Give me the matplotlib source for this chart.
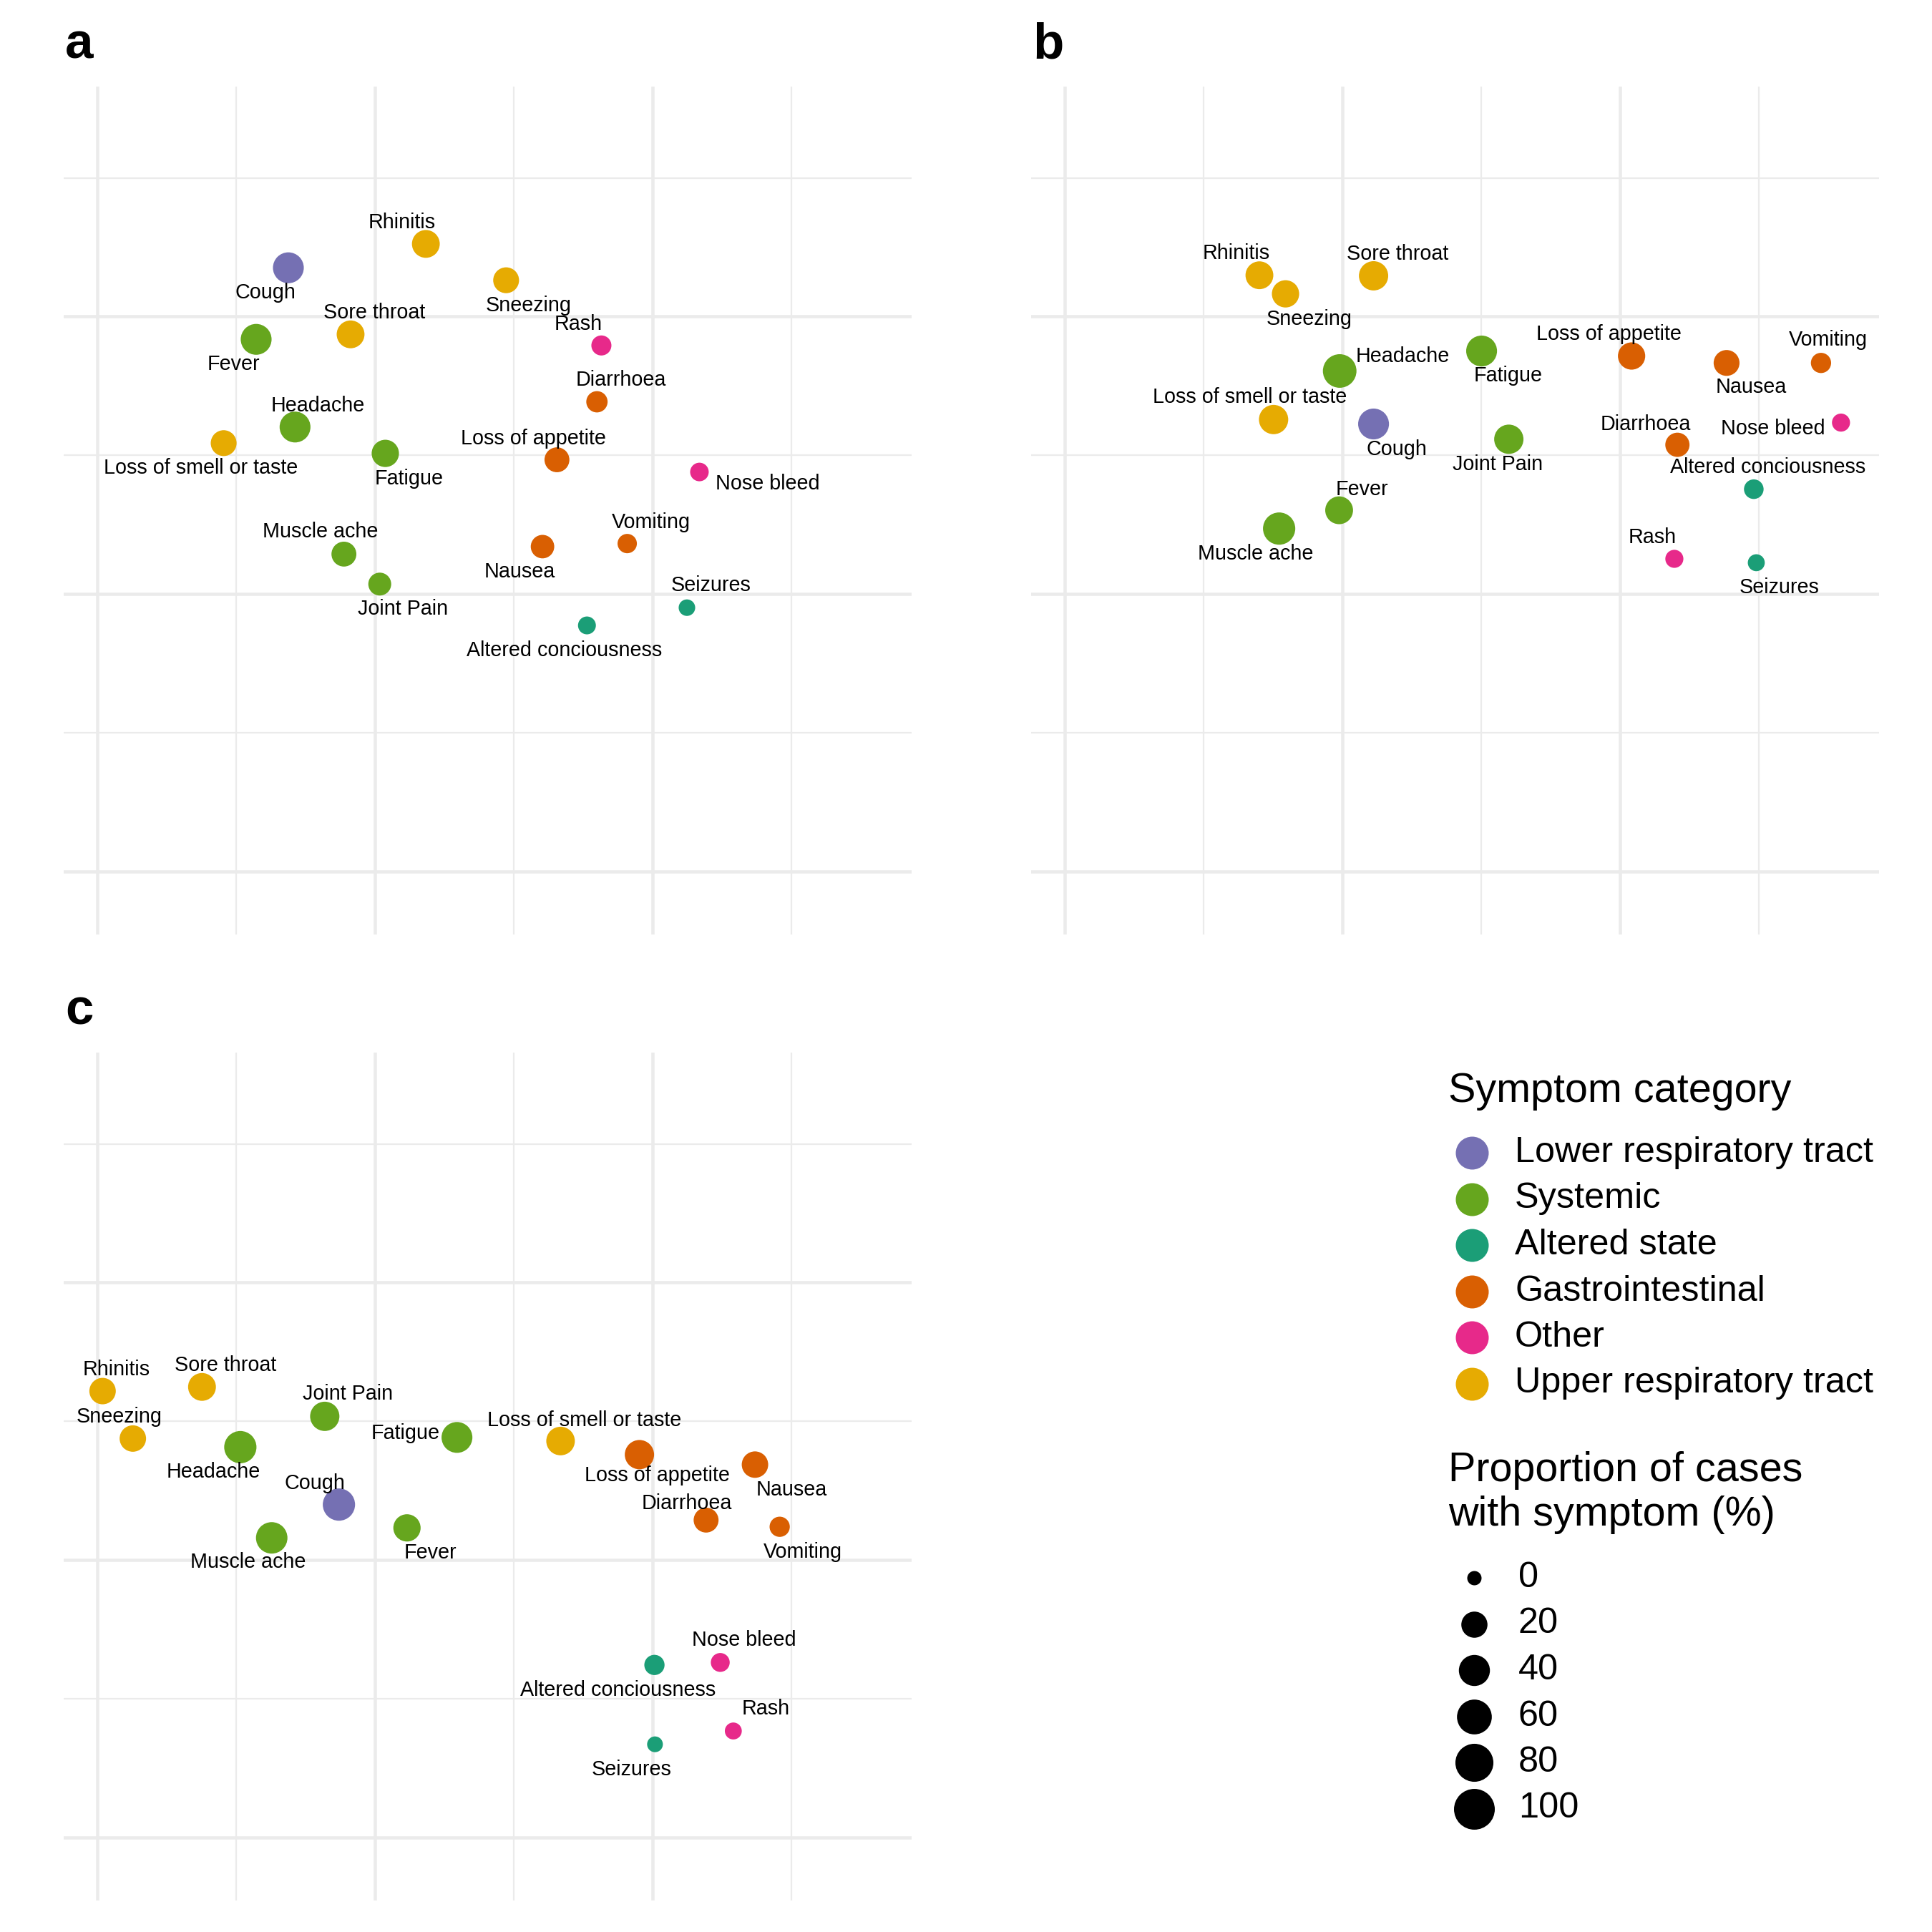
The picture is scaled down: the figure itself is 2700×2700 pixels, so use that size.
import numpy as np
import matplotlib
matplotlib.use("Agg")
import matplotlib.pyplot as plt

plt.rcParams['font.family'] = ['Liberation Sans', 'DejaVu Sans']

# symptoms and their category
symptoms = ["Cough", "Fever", "Headache", "Fatigue", "Muscle ache", "Joint Pain",
            "Altered conciousness", "Seizures", "Loss of appetite", "Diarrhoea",
            "Nausea", "Vomiting", "Rash", "Nose bleed", "Rhinitis", "Sneezing",
            "Sore throat", "Loss of smell or taste"]
category = ["Lower respiratory tract", "Systemic", "Systemic", "Systemic", "Systemic",
            "Systemic", "Altered state", "Altered state", "Gastrointestinal",
            "Gastrointestinal", "Gastrointestinal", "Gastrointestinal", "Other", "Other",
            "Upper respiratory tract", "Upper respiratory tract", "Upper respiratory tract",
            "Upper respiratory tract"]

categories = ["Lower respiratory tract", "Systemic", "Altered state",
              "Gastrointestinal", "Other", "Upper respiratory tract"]
cat_colors = ["#7570B3", "#66A61E", "#1B9E77", "#D95F02", "#E7298A", "#E6AB02"]

# panel a
a_x = [-0.311, -0.427, -0.287, 0.038, -0.111, 0.018, 0.764, 1.124, 0.656, 0.800,
       0.604, 0.909, 0.816, 1.169, 0.184, 0.473, -0.087, -0.544]
a_y = [1.176, 0.918, 0.602, 0.507, 0.144, 0.036, -0.113, -0.049, 0.484, 0.693,
       0.171, 0.182, 0.896, 0.440, 1.262, 1.131, 0.936, 0.544]
a_pct = [39, 39, 39, 24, 16, 10.5, 1.8, 0.7, 16, 7, 12, 3.6, 4.7, 2.6, 26, 19, 26, 19]

# panel b
b_x = [0.113, -0.011, -0.009, 0.502, -0.227, 0.600, 1.482, 1.491, 1.042, 1.207,
       1.384, 1.724, 1.196, 1.796, -0.298, -0.204, 0.113, -0.247]
b_y = [0.613, 0.302, 0.804, 0.876, 0.236, 0.558, 0.378, 0.113, 0.858, 0.538,
       0.833, 0.833, 0.127, 0.618, 1.149, 1.082, 1.147, 0.629]
b_pct = [39, 26, 53, 39, 46, 32, 4, 1, 24, 14, 19, 5, 2, 2, 26, 24, 32, 32]

# panel c
c_x = [-0.129, 0.116, -0.484, 0.296, -0.371, -0.180, 1.007, 1.009, 0.953, 1.193,
       1.369, 1.458, 1.291, 1.244, -0.980, -0.871, -0.622, 0.669]
c_y = [0.200, 0.116, 0.407, 0.442, 0.080, 0.518, -0.378, -0.664, 0.380, 0.144,
       0.344, 0.120, -0.616, -0.369, 0.609, 0.438, 0.624, 0.429]
c_pct = [46, 24, 46, 39, 42, 32, 5, 0.3, 32, 16, 21, 5, 1, 3, 21, 21, 26, 29]

size_breaks = [0, 20, 40, 60, 80, 100]

# label offsets (px right, px down) as placed by the repel step
a_off = [(-32, 35), (-32, 35), (32, -30), (33, 35), (-33, -31), (32, 35), (-32, 35),
         (34, -31), (-33, -30), (34, -30), (-32, 35), (33, -30), (-32, -30), (95, 16),
         (-33, -30), (31, 35), (33, -30), (-32, 35)]
b_off = [(32, 35), (32, -29), (88, -20), (37, 34), (-33, 35), (-16, 35), (20, -31),
         (32, 35), (-32, -31), (-44, -29), (34, 34), (10, -32), (-31, -30), (-95, 8),
         (-32, -31), (33, 35), (34, -30), (-33, -31)]
c_off = [(-34, -30), (33, 35), (-38, 35), (-72, -6), (-33, 34), (32, -31), (-51, 35),
         (-33, 35), (25, 29), (-27, -23), (51, 35), (32, 35), (45, -31), (33, -31),
         (19, -30), (-19, -30), (33, -30), (33, -29)]

DPI = 300
PX = 72 / DPI


def marker_area(p):
    d = (20 + 37 * np.sqrt(np.asarray(p, dtype=float) / 100)) * PX
    return d ** 2


color_of = dict(zip(categories, cat_colors))

fig = plt.figure(figsize=(9, 9), dpi=DPI)

W, H = 1185, 1185
panels = [("a", a_x, a_y, a_pct, a_off, 89, 121),
          ("b", b_x, b_y, b_pct, b_off, 1441, 121),
          ("c", c_x, c_y, c_pct, c_off, 89, 1471)]

for tag, xs, ys, pct, off, left, top in panels:
    ax = fig.add_axes([left / 2700, 1 - (top + H) / 2700, W / 2700, H / 2700])
    ax.set_xlim(-1.12, 1.933)
    ax.set_ylim(-1.227, 1.829)
    ax.set_xticks([-1, 0, 1])
    ax.set_xticks([-0.5, 0.5, 1.5], minor=True)
    ax.set_yticks([-1, 0, 1])
    ax.set_yticks([-0.5, 0.5, 1.5], minor=True)
    ax.grid(which="major", color="#EBEBEB", linewidth=1.1)
    ax.grid(which="minor", color="#EBEBEB", linewidth=0.55)
    ax.tick_params(which="both", length=0, labelbottom=False, labelleft=False)
    for s in ax.spines.values():
        s.set_visible(False)
    ax.set_axisbelow(True)

    cols = [color_of[c] for c in category]
    ax.scatter(xs, ys, s=marker_area(pct), c=cols, linewidths=0, zorder=3)
    for name, x, y, (dx, dy) in zip(symptoms, xs, ys, off):
        ax.annotate(name, (x, y), xytext=(dx * PX, -dy * PX), textcoords="offset points",
                    ha="center", va="center", fontsize=6.9, color="black", zorder=4)

    fig.text((left + 2) / 2700, 1 - (top - 39) / 2700, tag, fontsize=17,
             fontweight="bold", va="baseline", ha="left")

# legends, drawn in pixel space
lg = fig.add_axes([0, 0, 1, 1])
lg.set_xlim(0, 2700)
lg.set_ylim(2700, 0)
lg.axis("off")

lg.text(2024, 1540, "Symptom category", fontsize=13.8, va="baseline", ha="left")
for i, (cat, col) in enumerate(zip(categories, cat_colors)):
    yy = 1611 + i * 64.5
    lg.scatter([2057], [yy], s=(46 * PX) ** 2, c=col, linewidths=0)
    lg.text(2117, yy, cat, fontsize=12.1, va="center", ha="left")

lg.text(2024, 2070, "Proportion of cases", fontsize=13.8, va="baseline", ha="left")
lg.text(2024, 2132, "with symptom (%)", fontsize=13.8, va="baseline", ha="left")
for i, v in enumerate(size_breaks):
    yy = 2205 + i * 64.5
    lg.scatter([2060], [yy], s=marker_area(v), c="black", linewidths=0)
    lg.text(2122, yy, str(v), fontsize=12.1, va="center", ha="left")

fig.savefig("out.png", dpi=DPI, facecolor="white")
